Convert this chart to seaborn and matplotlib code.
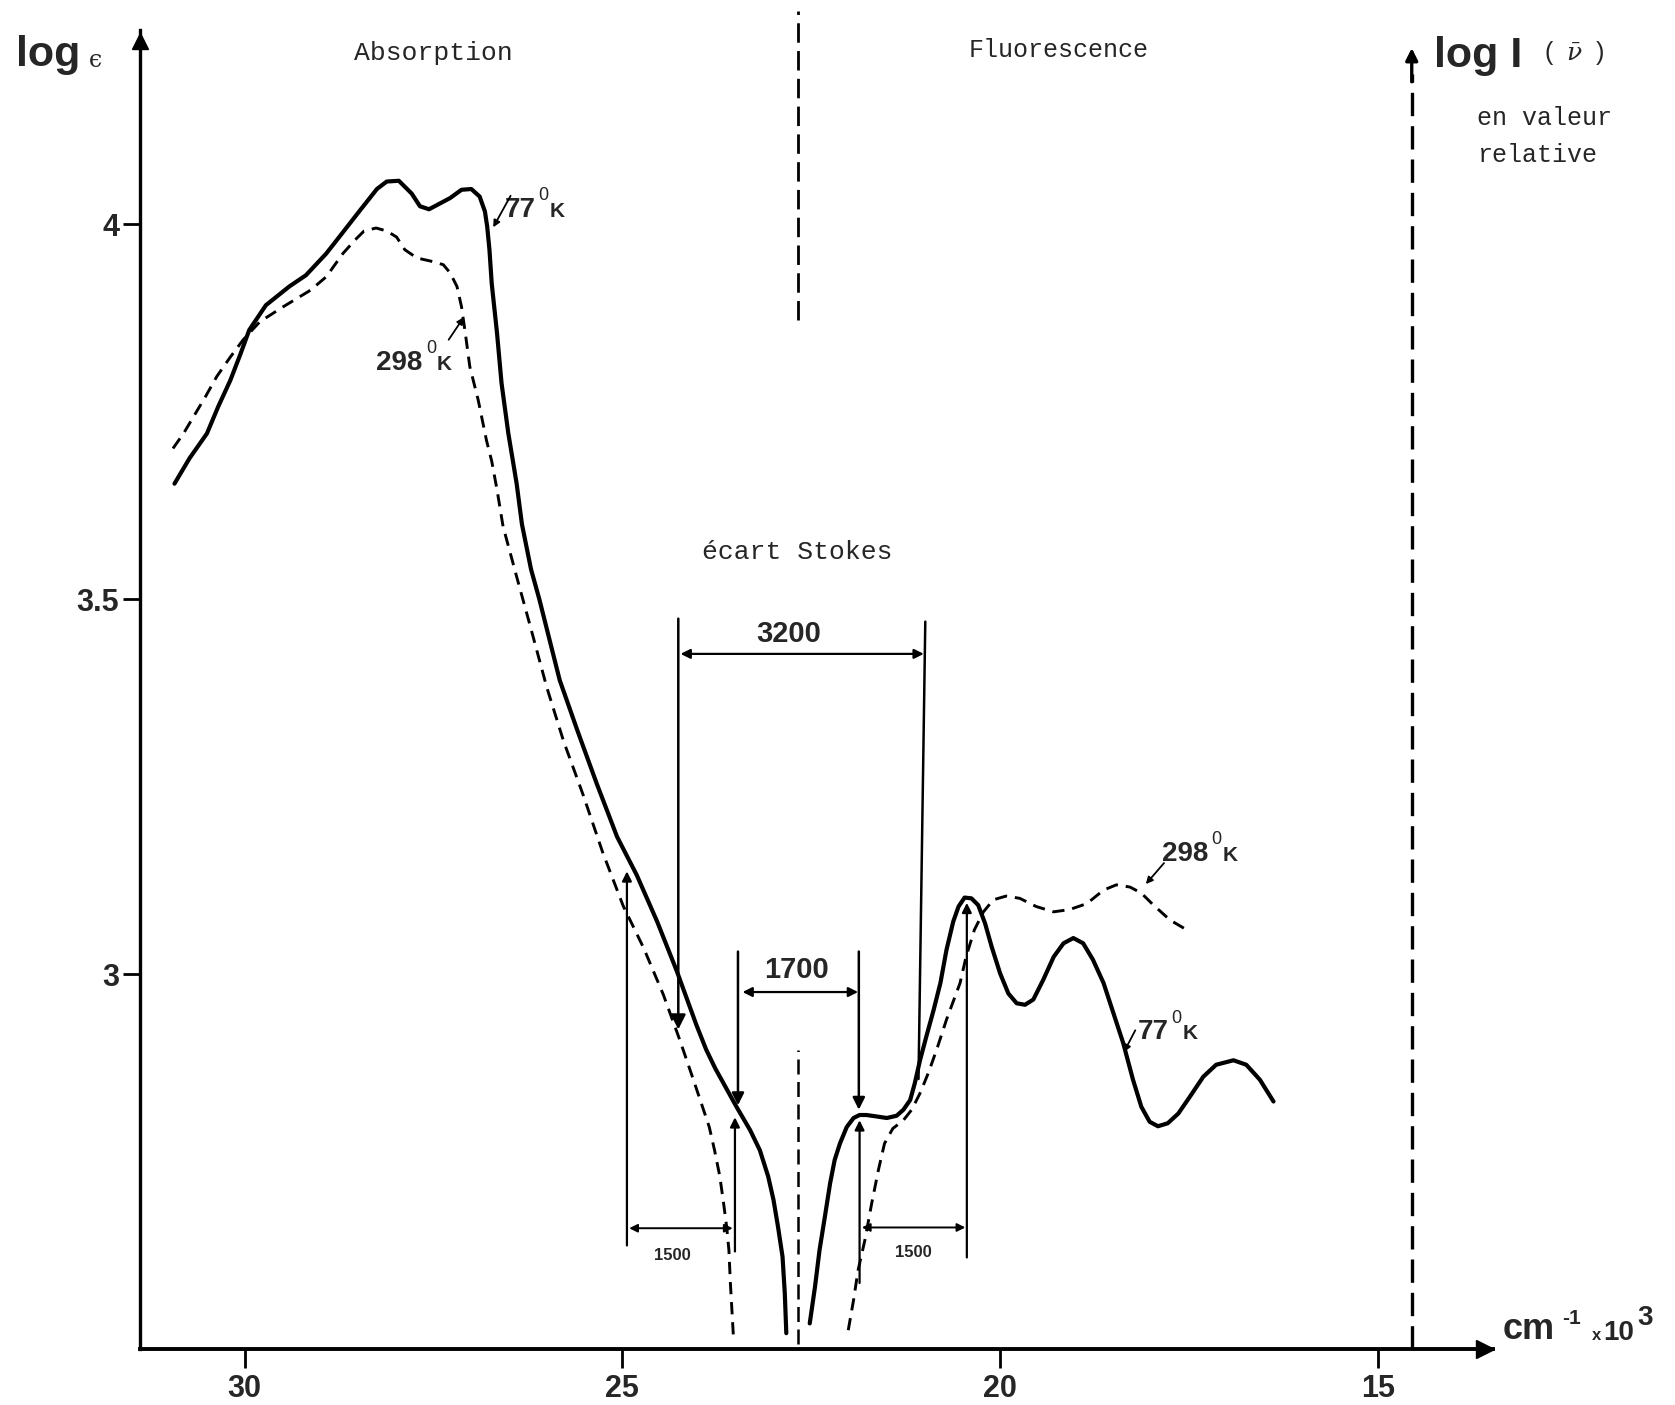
import numpy as np
import pandas as pd
import matplotlib
matplotlib.use('Agg')
import matplotlib.pyplot as plt
import seaborn as sns

# 77 K curve (solid line), absorption branch then fluorescence branch
nu_77_abs = [30.93, 30.73, 30.50, 30.35, 30.19, 30.06, 29.94, 29.72, 29.41, 29.19, 28.92, 28.78,
             28.47, 28.25, 28.12, 27.96, 27.79, 27.68, 27.56, 27.28, 27.13, 27.00, 26.89, 26.82,
             26.79, 26.76, 26.73, 26.66, 26.60, 26.51, 26.40, 26.33, 26.21, 26.10, 25.83, 25.60,
             25.34, 25.07, 24.81, 24.54, 24.28, 24.02, 23.89, 23.77, 23.66, 23.49, 23.31, 23.18,
             23.07, 23.00, 22.94, 22.88, 22.85, 22.83]
log_77_abs = [3.654, 3.688, 3.721, 3.757, 3.792, 3.826, 3.859, 3.892, 3.917, 3.932, 3.961, 3.979,
              4.019, 4.047, 4.057, 4.058, 4.041, 4.024, 4.020, 4.035, 4.046, 4.047, 4.037, 4.017,
              3.997, 3.966, 3.921, 3.855, 3.788, 3.721, 3.654, 3.600, 3.540, 3.500, 3.392, 3.326,
              3.254, 3.183, 3.132, 3.070, 3.004, 2.932, 2.899, 2.874, 2.854, 2.823, 2.792, 2.765,
              2.730, 2.699, 2.663, 2.623, 2.574, 2.521]
nu_77_flu = [22.52, 22.45, 22.39, 22.32, 22.25, 22.19, 22.12, 22.03, 21.94, 21.86, 21.77, 21.63,
             21.50, 21.37, 21.28, 21.19, 21.13, 21.06, 20.97, 20.88, 20.79, 20.71, 20.62, 20.55,
             20.47, 20.38, 20.29, 20.20, 20.11, 20.00, 19.89, 19.78, 19.67, 19.56, 19.43, 19.29,
             19.16, 19.03, 18.90, 18.77, 18.63, 18.50, 18.37, 18.24, 18.13, 18.02, 17.91, 17.78,
             17.64, 17.49, 17.31, 17.14, 16.91, 16.74, 16.56, 16.38]
log_77_flu = [2.534, 2.583, 2.632, 2.676, 2.721, 2.752, 2.774, 2.796, 2.808, 2.812, 2.812, 2.810,
              2.808, 2.811, 2.819, 2.832, 2.854, 2.885, 2.919, 2.952, 2.988, 3.032, 3.070, 3.090,
              3.102, 3.101, 3.092, 3.068, 3.036, 3.001, 2.974, 2.961, 2.959, 2.966, 2.992, 3.023,
              3.041, 3.048, 3.041, 3.019, 2.988, 2.948, 2.908, 2.859, 2.823, 2.803, 2.797, 2.801,
              2.814, 2.836, 2.863, 2.879, 2.885, 2.879, 2.859, 2.830]

# 298 K curve (dashed line)
nu_298_abs = [30.95, 30.81, 30.68, 30.52, 30.37, 30.19, 30.02, 29.80, 29.49, 29.13, 28.92, 28.70,
              28.54, 28.42, 28.26, 28.12, 27.99, 27.88, 27.72, 27.50, 27.37, 27.28, 27.19, 27.13,
              27.08, 27.02, 26.91, 26.80, 26.73, 26.66, 26.58, 26.40, 26.22, 26.00, 25.78, 25.52,
              25.26, 24.99, 24.72, 24.46, 24.24, 24.06, 23.85, 23.78, 23.71, 23.66, 23.62, 23.59,
              23.57, 23.53]
log_298_abs = [3.701, 3.721, 3.743, 3.770, 3.797, 3.823, 3.846, 3.870, 3.890, 3.912, 3.930, 3.961,
               3.979, 3.991, 3.995, 3.991, 3.983, 3.966, 3.955, 3.950, 3.946, 3.935, 3.917, 3.890,
               3.855, 3.810, 3.766, 3.712, 3.684, 3.646, 3.597, 3.530, 3.464, 3.382, 3.311, 3.239,
               3.162, 3.091, 3.035, 2.973, 2.912, 2.859, 2.796, 2.765, 2.730, 2.694, 2.663, 2.632,
               2.587, 2.516]
nu_298_flu = [22.01, 21.94, 21.88, 21.79, 21.70, 21.61, 21.53, 21.42, 21.28, 21.17, 21.06, 20.95,
              20.84, 20.71, 20.53, 20.45, 20.34, 20.22, 20.09, 19.92, 19.74, 19.52, 19.29, 19.08,
              18.85, 18.63, 18.46, 18.28, 18.13, 17.97, 17.75, 17.53]
log_298_flu = [2.525, 2.565, 2.605, 2.645, 2.694, 2.739, 2.774, 2.794, 2.805, 2.819, 2.841, 2.868,
               2.899, 2.939, 2.988, 3.023, 3.059, 3.083, 3.099, 3.104, 3.101, 3.090, 3.083, 3.086,
               3.094, 3.112, 3.119, 3.116, 3.108, 3.092, 3.072, 3.059]

x_ticks = [30, 25, 20, 15]
y_ticks = [3, 3.5, 4]
y_tick_labels = ['3', '3.5', '4']

# Stokes shift brackets (wavenumber x10^3 of the vertical edges)
edges_3200 = [24.26, 20.99]
edges_1700 = [23.47, 21.87]
edges_1500_abs = [24.94, 23.51]
edges_1500_flu = [21.86, 20.44]

sns.set_theme(style='white')
plt.rcParams['font.family'] = ['Liberation Sans', 'DejaVu Sans']
plt.rcParams['mathtext.fontset'] = 'dejavuserif'

frames = []
for temp, seg, nu, lg in [('77K', 'a', nu_77_abs, log_77_abs), ('77K', 'f', nu_77_flu, log_77_flu),
                          ('298K', 'a', nu_298_abs, log_298_abs), ('298K', 'f', nu_298_flu, log_298_flu)]:
    frames.append(pd.DataFrame({'nu': nu, 'loge': lg, 'temp': temp, 'seg': temp + seg}))
df = pd.concat(frames, ignore_index=True)

fig, ax = plt.subplots(figsize=(16.75, 14.05), dpi=100)
ax.set_position([0.0836, 0.0399, 0.8078, 0.9387])

sns.lineplot(data=df, x='nu', y='loge', style='temp', size='temp', units='seg', estimator=None,
             sort=False, dashes={'77K': '', '298K': (4.2, 2.7)}, sizes={'77K': 3.0, '298K': 2.1},
             color='black', legend=False, ax=ax)
for line in ax.get_lines():
    line.set_solid_joinstyle('round')
    line.set_solid_capstyle('round')

ax.set_xlim(31.386, 13.473)
ax.set_ylim(2.50, 4.259)
ax.set_xlabel('')
ax.set_ylabel('')

for s in ['top', 'right']:
    ax.spines[s].set_visible(False)
ax.spines['left'].set_linewidth(2.4)
ax.spines['bottom'].set_linewidth(2.8)
ax.spines['left'].set_color('black')
ax.spines['bottom'].set_color('black')

ax.set_xticks(x_ticks, labels=[str(t) for t in x_ticks], fontweight='bold', fontsize=22)
ax.set_yticks(y_ticks, labels=y_tick_labels, fontweight='bold', fontsize=22)
ax.tick_params(axis='x', direction='out', length=14, width=2.0, pad=4, color='black', bottom=True)
ax.tick_params(axis='y', direction='out', length=12, width=2.0, pad=3, color='black', left=True)

# axis arrow heads
ax.plot(0, 0.992, marker='^', ms=12, color='black', transform=ax.transAxes, clip_on=False)
ax.plot(0.994, 0, marker='>', ms=13, color='black', transform=ax.transAxes, clip_on=False)


def arrow(x0, y0, x1, y1, style='-|>', lw=1.6, ms=16):
    ax.annotate('', xy=(x1, y1), xytext=(x0, y0),
                arrowprops=dict(arrowstyle=style, color='black', lw=lw, mutation_scale=ms,
                                shrinkA=0, shrinkB=0),
                annotation_clip=False)


# fluorescence intensity axis (dashed) and absorption/fluorescence divider
ax.vlines(14.55, 2.50, 4.20, colors='black', linewidth=2.4, linestyles=(0, (7, 3)))
arrow(14.55, 4.19, 14.55, 4.235, lw=2.4, ms=18)
ax.vlines(22.68, 3.872, 4.285, colors='black', linewidth=2.0, linestyles=(0, (7, 3)), clip_on=False)
ax.vlines(22.68, 2.507, 2.899, colors='black', linewidth=1.8, linestyles=(0, (6, 3)))

# 3200 bracket
arrow(edges_3200[0], 3.474, edges_3200[0], 2.926, lw=1.8, ms=22)
ax.plot([edges_3200[1], edges_3200[1] + 0.09], [3.470, 2.860], color='black', lw=1.8)
arrow(edges_3200[0] - 0.03, 3.427, edges_3200[1] + 0.02, 3.427, style='<|-|>', lw=1.6, ms=14)
ax.text(22.80, 3.454, '3200', fontsize=21, fontweight='bold', ha='center', va='center')

# 1700 bracket
arrow(edges_1700[0], 3.030, edges_1700[0], 2.825, lw=1.8, ms=18)
arrow(edges_1700[1], 3.030, edges_1700[1], 2.819, lw=1.8, ms=18)
arrow(edges_1700[0] - 0.06, 2.976, edges_1700[1] + 0.01, 2.976, style='<|-|>', lw=1.6, ms=14)
ax.text(22.69, 3.006, '1700', fontsize=21, fontweight='bold', ha='center', va='center')

# 1500 brackets
arrow(edges_1500_abs[0], 2.638, edges_1500_abs[0], 3.137, lw=1.6, ms=14)
arrow(edges_1500_abs[1], 2.630, edges_1500_abs[1], 2.809, lw=1.6, ms=14)
arrow(edges_1500_abs[0] - 0.03, 2.661, edges_1500_abs[1] + 0.03, 2.661, style='<|-|>', lw=1.4, ms=12)
ax.text(24.34, 2.625, '1500', fontsize=12, fontweight='bold', ha='center', va='center')
arrow(edges_1500_flu[0], 2.588, edges_1500_flu[0], 2.805, lw=1.6, ms=14)
arrow(edges_1500_flu[1], 2.622, edges_1500_flu[1], 3.095, lw=1.6, ms=14)
arrow(edges_1500_flu[0] - 0.03, 2.662, edges_1500_flu[1] + 0.02, 2.662, style='<|-|>', lw=1.4, ms=12)
ax.text(21.15, 2.628, '1500', fontsize=12, fontweight='bold', ha='center', va='center')


def temp_label(x, y, num):
    ax.annotate(num, (x, y), fontsize=20, fontweight='bold', ha='left', va='baseline')
    w = 11.6 * len(num)
    ax.annotate('0', (x, y), xytext=(w + 1, 12), textcoords='offset points', fontsize=13,
                ha='left', va='baseline')
    ax.annotate('K', (x, y), xytext=(w + 9, 0), textcoords='offset points', fontsize=15,
                fontweight='bold', ha='left', va='baseline')


temp_label(26.56, 4.010, '77')
arrow(26.48, 4.038, 26.71, 3.996, lw=1.3, ms=10)
temp_label(28.26, 3.806, '298')
arrow(27.30, 3.846, 27.10, 3.876, lw=1.3, ms=10)
temp_label(17.86, 3.151, '298')
arrow(17.83, 3.148, 18.07, 3.120, lw=1.3, ms=10)
temp_label(18.18, 2.913, '77')
arrow(18.21, 2.925, 18.36, 2.896, lw=1.3, ms=10)

mono = 'Liberation Mono'
ax.text(27.50, 4.229, 'Absorption', family=mono, fontsize=19, ha='center', va='center')
ax.text(19.23, 4.232, 'Fluorescence', family=mono, fontsize=18, ha='center', va='center')
ax.text(22.69, 3.563, 'écart Stokes', family=mono, fontsize=19, ha='center', va='center')

# axis titles
fig.text(0.0287, 0.9605, 'log', fontsize=31, fontweight='bold', ha='center', va='center')
fig.text(0.0568, 0.957, 'ϵ', fontsize=17, family='DejaVu Serif', ha='center', va='center')
fig.text(0.856, 0.960, 'log I', fontsize=31, fontweight='bold', ha='left', va='center')
fig.text(0.9216, 0.962, r'(  $\bar{\nu}$  )', fontsize=18, ha='left', va='center')
fig.text(0.882, 0.9163, 'en valeur', family=mono, fontsize=18, ha='left', va='center')
fig.text(0.882, 0.8897, 'relative', family=mono, fontsize=18, ha='left', va='center')

fig.text(0.8973, 0.0471, 'cm', fontsize=26, fontweight='bold', ha='left', va='baseline')
fig.text(0.9324, 0.0578, '-1', fontsize=15, fontweight='bold', ha='left', va='baseline')
fig.text(0.9503, 0.0464, 'x', fontsize=12, fontweight='bold', ha='left', va='baseline')
fig.text(0.9573, 0.0464, '10', fontsize=20, fontweight='bold', ha='left', va='baseline')
fig.text(0.9777, 0.0570, '3', fontsize=20, fontweight='bold', ha='left', va='baseline')

fig.savefig('out.png', dpi=100)
